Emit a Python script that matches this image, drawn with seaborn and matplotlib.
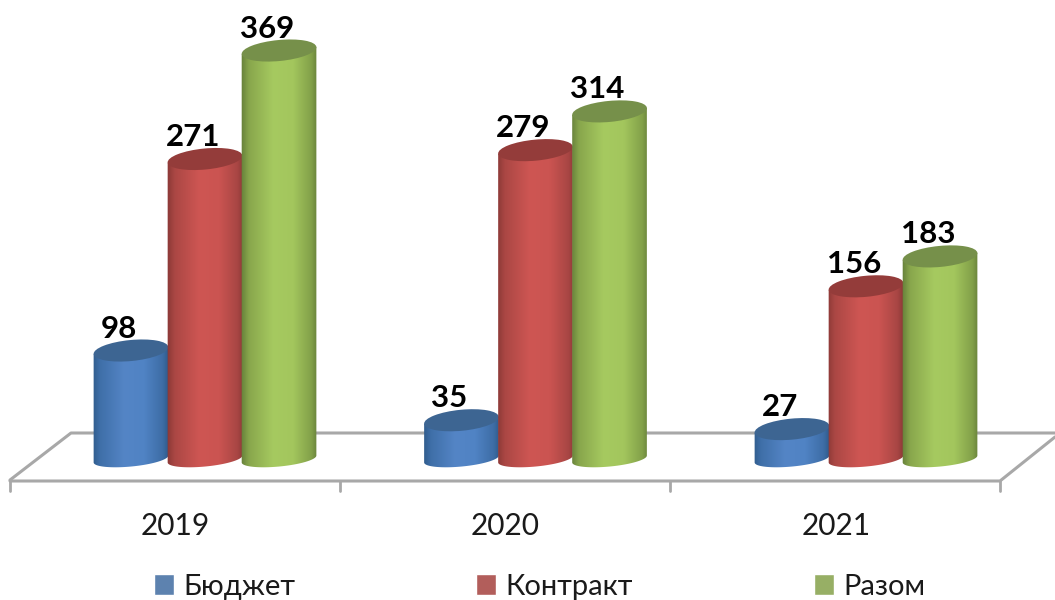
import numpy as np
import pandas as pd
import seaborn as sns
import matplotlib.pyplot as plt
from matplotlib.colors import LinearSegmentedColormap
from matplotlib.lines import Line2D
from matplotlib.patches import Ellipse
from matplotlib.path import Path
from matplotlib.transforms import IdentityTransform, ScaledTranslation

years = ['2019', '2020', '2021']
budget = [98, 35, 27]
contract = [271, 279, 156]
total = [369, 314, 183]
series_names = ['Бюджет', 'Контракт', 'Разом']

legend_colors = ['#4F81BD', '#C0504D', '#9BBB59']
side_shades = [
    ['#2F5A8A', '#3F6FA8', '#5485C6', '#5083C4', '#3E6DA6', '#2F5A8A'],
    ['#8A3836', '#AB4744', '#CE5653', '#CB5451', '#A84644', '#8A3836'],
    ['#66803A', '#88A64C', '#A6CA60', '#A3C65D', '#82A049', '#66803A'],
]
shade_stops = [0, 0.1, 0.42, 0.68, 0.92, 1]
cap_colors = ['#3D6592', '#943C3A', '#76904A']

W, H = 1055, 600
base_px = 459      # image row of the value 0
px_per_unit = 1.107
axis_bottom_px = 512

sns.set_theme(style='white')
plt.rcParams['font.family'] = ['Lato', 'Open Sans', 'DejaVu Sans']

df = pd.DataFrame({
    'year': np.repeat(years, 3),
    'series': series_names * 3,
    'value': [v for trio in zip(budget, contract, total) for v in trio],
})

fig = plt.figure(figsize=(W / 100, H / 100), dpi=100)
ax = fig.add_axes([0, 1 - axis_bottom_px / H, 1, axis_bottom_px / H])
ax.patch.set_alpha(0)

sns.barplot(data=df, x='year', y='value', hue='series', hue_order=series_names,
            palette=legend_colors, width=0.672, gap=0, dodge=True, ax=ax)

ax.set_xlim(-205 / 330.5, (W - 205) / 330.5)
ax.set_ylim(-(axis_bottom_px - base_px) / px_per_unit, base_px / px_per_unit)
ax.set_xlabel('')
ax.set_ylabel('')
ax.set_yticks([])
sns.despine(ax=ax, left=True, bottom=True)
ax.tick_params(axis='x', length=0, pad=0, labelsize=21.5, labelcolor='#1a1a1a')
shift = ScaledTranslation(-30 / 100, 0, fig.dpi_scale_trans)
for lab in ax.get_xticklabels():
    lab.set_transform(lab.get_transform() + shift)


# floor of the chart, image coordinates
def floor_line(xs, ys, lw=2.2):
    ax.add_line(Line2D(xs, [H - y for y in ys], color='#A8A8A8', lw=lw,
                       transform=IdentityTransform(), clip_on=False, zorder=1))


floor_line([10, 71, 1055], [480, 433, 433])
floor_line([10, 1000, 1055], [481, 481, 437])
for tick_x in [10, 340, 670, 1000]:
    floor_line([tick_x, tick_x], [481, 491], lw=2)

a, b, tilt = 37.5, 10.5, np.deg2rad(5.5)
b_bottom = 7.5


def ellipse_xy(cx, cy, t, minor):
    x = a * np.cos(t)
    y = minor * np.sin(t)
    return (cx + x * np.cos(tilt) - y * np.sin(tilt),
            cy + x * np.sin(tilt) + y * np.cos(tilt))


# turn each flat bar into a cylinder
to_disp = ax.transData
for k, bars in enumerate(ax.containers):
    cmap = LinearSegmentedColormap.from_list('side', list(zip(shade_stops, side_shades[k])))
    for bar in bars:
        bar.set_visible(False)
        cx_d = bar.get_x() + bar.get_width() / 2
        value = bar.get_height()
        cx, top = to_disp.transform((cx_d, value))
        _, bot = to_disp.transform((cx_d, 0))

        t = np.linspace(0, -np.pi, 60)
        bx, by = ellipse_xy(cx, bot, t, b_bottom)
        lx, ly = ellipse_xy(cx, top, np.pi, b)
        rx, ry = ellipse_xy(cx, top, 0, b)
        verts = [(rx, ry)] + list(zip(bx, by)) + [(lx, ly), (rx, ry)]
        outline = Path(verts)

        x0, _ = to_disp.inverted().transform((cx - a - 1, 0))
        x1, _ = to_disp.inverted().transform((cx + a + 1, 0))
        im = ax.imshow(np.linspace(0, 1, 128)[None, :], cmap=cmap, aspect='auto',
                       extent=[x0, x1, -20, value + 10], zorder=3 + k,
                       interpolation='bilinear')
        im.set_clip_path(outline, IdentityTransform())

        ax.add_patch(Ellipse((cx, top), 2 * a, 2 * b, angle=np.rad2deg(tilt),
                             facecolor=cap_colors[k], edgecolor='none',
                             transform=IdentityTransform(), zorder=3 + k, clip_on=False))

        ax.annotate(f'{value:.0f}', xy=(cx_d, value), xytext=(-12, 22),
                    textcoords='offset pixels', ha='center', va='center',
                    fontsize=22.5, fontweight='bold', color='black',
                    zorder=10, annotation_clip=False)

ax.set_xlim(-205 / 330.5, (W - 205) / 330.5)
ax.set_ylim(-(axis_bottom_px - base_px) / px_per_unit, base_px / px_per_unit)

sns.move_legend(ax, 'lower left', bbox_to_anchor=(154 / W, 0 / H),
                bbox_transform=fig.transFigure, ncol=3, frameon=False, title=None,
                fontsize=21, handlelength=0.68, handleheight=0.72, handletextpad=0.33,
                columnspacing=6.2, borderpad=0, borderaxespad=0)
for txt in ax.get_legend().get_texts():
    txt.set_color('#1a1a1a')

fig.savefig('out.png', dpi=100, facecolor='white')
